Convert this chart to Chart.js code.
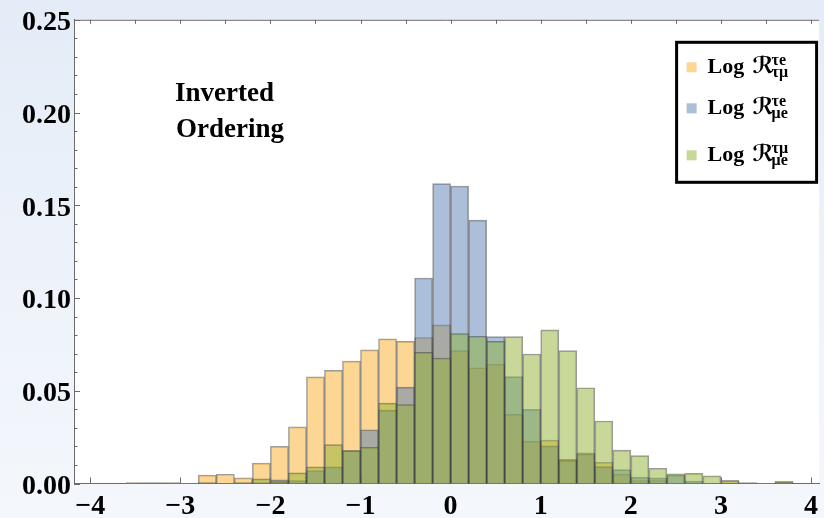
<!DOCTYPE html>
<html>
<head>
<meta charset="utf-8">
<script src="https://cdn.jsdelivr.net/npm/chart.js@4.4.0/dist/chart.umd.min.js"></script>
<style>
    html, body { margin: 0; padding: 0; }
    body {
        width: 824px; height: 518px; overflow: hidden;
        background: linear-gradient(to bottom, #e3ecf7 0%, #edf2fa 50%, #f4f7fc 100%);
    }
    #wrap { position: relative; width: 824px; height: 518px; }
</style>
</head>
<body>
<div id="wrap"><canvas id="histChart"></canvas></div>
<script>
// Bin centres (bin width 0.2)
const binCenters = [-3.5, -3.3, -3.1, -2.9, -2.7, -2.5, -2.3, -2.1, -1.9, -1.7,
    -1.5, -1.3, -1.1, -0.9, -0.7, -0.5, -0.3, -0.1, 0.1, 0.3,
    0.5, 0.7, 0.9, 1.1, 1.3, 1.5, 1.7, 1.9, 2.1, 2.3,
    2.5, 2.7, 2.9, 3.1, 3.3, 3.5, 3.7];

// Log R^{τe}_{τμ}  (orange)
const logRTauMu = [0.0005, 0, 0.0005, 0, 0.0045, 0.005, 0.003, 0.011, 0.020, 0.0305,
    0.0575, 0.061, 0.066, 0.072, 0.078, 0.0766, 0.0787, 0.0855, 0.0716, 0.0624,
    0.0644, 0.0373, 0.0227, 0.0234, 0.013, 0.0165, 0.0114, 0.005, 0.0016, 0.0016,
    0, 0, 0, 0.0016, 0, 0, 0.001];

// Log R^{τe}_{μe}  (blue)
const logRMuE = [0, 0.0005, 0, 0, 0, 0, 0, 0.0005, 0.002, 0.0016,
    0.007, 0.009, 0.0177, 0.029, 0.0396, 0.052, 0.1108, 0.1617, 0.1604, 0.142,
    0.0792, 0.0576, 0.040, 0.0203, 0.0125, 0.016, 0.0091, 0.0075, 0.0034, 0.003,
    0.0045, 0.0013, 0, 0, 0, 0, 0];

// Log R^{τμ}_{μe}  (green)
const logRMuETauMu = [0, 0, 0, 0, 0.0005, 0, 0.0005, 0.0025, 0.001, 0.0057,
    0.009, 0.021, 0.0177, 0.0195, 0.0433, 0.0425, 0.0707, 0.0676, 0.0808, 0.0794,
    0.0766, 0.0792, 0.0698, 0.0828, 0.0716, 0.0516, 0.0337, 0.018, 0.015, 0.0082,
    0.0052, 0.0055, 0.0041, 0.0016, 0.0005, 0, 0.001];

const xTickValues = [-4, -3, -2, -1, 0, 1, 2, 3, 4];
const xTopTickValues = [-4, -3.5, -3, -2.5, -2, -1.5, -1, -0.5, 0, 0.5, 1, 1.5, 2, 2.5, 3, 3.5, 4];
const yTickValues = [0, 0.05, 0.10, 0.15, 0.20, 0.25];
const yMinorTickValues = [0.01, 0.02, 0.03, 0.04, 0.06, 0.07, 0.08, 0.09, 0.11, 0.12, 0.13, 0.14,
    0.16, 0.17, 0.18, 0.19, 0.21, 0.22, 0.23, 0.24];

const legendRows = [
    { sup: 'τe', sub: 'τμ' },
    { sup: 'τe', sub: 'μe' },
    { sup: 'τμ', sub: 'μe' }
];

const fillColors = ['rgba(249, 174, 38, 0.5)', 'rgba(88, 125, 182, 0.5)', 'rgba(144, 178, 52, 0.5)'];
const edgeColor = 'rgba(60, 60, 60, 0.5)';
const serif = '"Liberation Serif", "Times New Roman", "DejaVu Serif", "DejaVu Sans", serif';

function toPoints(values) {
    return binCenters.map((c, i) => ({ x: c, y: values[i] }));
}

function fmtX(v) {
    return v < 0 ? '\u2212' + Math.abs(v) : String(v);
}

// white plot area
const plotBackground = {
    id: 'plotBackground',
    beforeDraw(chart) {
        const { ctx, chartArea: a } = chart;
        ctx.save();
        ctx.fillStyle = '#ffffff';
        ctx.fillRect(a.left, a.top, a.right - a.left, a.bottom - a.top);
        ctx.restore();
    }
};

// top frame line and inward tick marks
const frameTicks = {
    id: 'frameTicks',
    afterDatasetsDraw(chart) {
        const { ctx, chartArea: a, scales } = chart;
        const x = scales.x, y = scales.y;
        ctx.save();
        ctx.strokeStyle = '#6b6b6b';
        ctx.lineWidth = 1;
        ctx.beginPath();
        ctx.moveTo(a.left, a.top + 0.5);
        ctx.lineTo(a.right, a.top + 0.5);
        xTickValues.forEach(v => {
            const px = Math.round(x.getPixelForValue(v)) + 0.5;
            ctx.moveTo(px, a.bottom);
            ctx.lineTo(px, a.bottom - 6);
        });
        xTopTickValues.forEach(v => {
            const px = Math.round(x.getPixelForValue(v)) + 0.5;
            ctx.moveTo(px, a.top);
            ctx.lineTo(px, a.top + 4);
        });
        yTickValues.forEach(v => {
            const py = Math.round(y.getPixelForValue(v)) + 0.5;
            ctx.moveTo(a.left, py);
            ctx.lineTo(a.left + 6, py);
        });
        yMinorTickValues.forEach(v => {
            const py = Math.round(y.getPixelForValue(v)) + 0.5;
            ctx.moveTo(a.left, py);
            ctx.lineTo(a.left + 3.5, py);
        });
        ctx.stroke();
        ctx.restore();
    }
};

// "Inverted Ordering" label and the framed legend
const annotations = {
    id: 'annotations',
    afterDraw(chart) {
        const { ctx, chartArea: a } = chart;
        ctx.save();
        ctx.fillStyle = '#000';
        ctx.textBaseline = 'alphabetic';
        ctx.font = 'bold 27px ' + serif;
        ctx.fillText('Inverted', a.left + 101, a.top + 81);
        ctx.fillText('Ordering', a.left + 102, a.top + 117);

        const boxL = a.right - 142.5, boxT = a.top + 22.5, boxW = 140, boxH = 140;
        ctx.fillStyle = '#fff';
        ctx.fillRect(boxL, boxT, boxW, boxH);
        ctx.lineWidth = 3;
        ctx.strokeStyle = '#000';
        ctx.strokeRect(boxL, boxT, boxW, boxH);

        const rowOffsets = [25, 66, 113];
        legendRows.forEach((row, i) => {
            const cy = boxT + rowOffsets[i];
            ctx.fillStyle = fillColors[i];
            ctx.fillRect(boxL + 10, cy - 5, 10, 10);
            ctx.fillStyle = '#000';
            ctx.font = 'bold 22px ' + serif;
            ctx.fillText('Log', boxL + 31, cy + 6);
            ctx.font = 'bold 23px ' + serif;
            ctx.fillText('\u211B', boxL + 76, cy + 6);
            ctx.font = 'bold 16px ' + serif;
            ctx.fillText(row.sup, boxL + 95, cy - 2);
            ctx.fillText(row.sub, boxL + 95, cy + 10);
        });
        ctx.restore();
    }
};

const seriesValues = [logRTauMu, logRMuE, logRMuETauMu];
const datasets = seriesValues.map((vals, i) => ({
    label: ['Log R tau-mu', 'Log R mu-e', 'Log R mu-e (tau-mu)'][i],
    data: toPoints(vals),
    backgroundColor: fillColors[i],
    borderColor: edgeColor,
    borderWidth: ctx => (ctx.raw && ctx.raw.y > 0 ? 1 : 0),
    borderSkipped: 'start',
    barPercentage: 1,
    categoryPercentage: 1,
    grouped: false,
    order: 3 - i
}));

const ctx = document.getElementById('histChart').getContext('2d');
const histChart = new Chart(ctx, {
    type: 'bar',
    data: { datasets: datasets },
    options: {
        responsive: true,
        maintainAspectRatio: false,
        animation: false,
        layout: { padding: { top: 16, right: 0, left: 0, bottom: 0 } },
        plugins: {
            legend: { display: false },
            tooltip: { enabled: false }
        },
        scales: {
            x: {
                type: 'linear',
                min: -4.18,
                max: 4.09,
                offset: false,
                z: 1,
                grid: { display: false, drawTicks: false },
                border: { display: true, color: '#6b6b6b', width: 1 },
                afterBuildTicks: axis => { axis.ticks = xTickValues.map(v => ({ value: v })); },
                afterFit: axis => { axis.height = 34.5; },
                ticks: {
                    padding: 6,
                    color: '#000',
                    maxRotation: 0,
                    font: { family: serif, weight: 'bold', size: 28 },
                    callback: v => fmtX(v)
                }
            },
            y: {
                min: 0,
                max: 0.25,
                z: 1,
                grid: { display: false, drawTicks: false },
                border: { display: true, color: '#6b6b6b', width: 1 },
                afterBuildTicks: axis => { axis.ticks = yTickValues.map(v => ({ value: v })); },
                afterFit: axis => { axis.width = 74; },
                ticks: {
                    padding: 3,
                    labelOffset: 3,
                    color: '#000',
                    font: { family: serif, weight: 'bold', size: 28 },
                    callback: v => v.toFixed(2)
                }
            }
        }
    },
    plugins: [plotBackground, frameTicks, annotations]
});
</script>
</body>
</html>
